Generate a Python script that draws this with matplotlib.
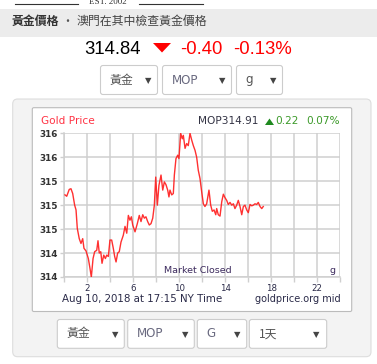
import matplotlib
matplotlib.use("Agg")
import matplotlib.pyplot as plt
from matplotlib.patches import FancyBboxPatch, Polygon

plt.rcParams['font.family'] = ['DejaVu Sans', 'Noto Sans CJK TC']
CJK = ['Noto Sans CJK TC', 'DejaVu Sans']

# ---------------- data ----------------
hours = [0.06, 0.21, 0.43, 0.58, 0.73, 0.90, 1.02, 1.13, 1.30, 1.45, 1.60, 1.71, 1.89,
         2.09, 2.23, 2.35, 2.50, 2.64, 2.82, 2.93, 3.04, 3.17, 3.28, 3.43, 3.57, 3.69,
         3.83, 3.97, 4.12, 4.26, 4.38, 4.50, 4.64, 4.78, 4.93, 5.13, 5.28, 5.43, 5.57,
         5.71, 5.83, 5.95, 6.15, 6.35, 6.52, 6.67, 6.82, 6.96, 7.10, 7.25, 7.39, 7.54,
         7.69, 7.83, 7.95, 8.09, 8.23, 8.41, 8.56, 8.70, 8.84, 8.99, 9.10, 9.19, 9.34,
         9.48, 9.57, 9.71, 9.86, 9.97, 10.12, 10.26, 10.35, 10.50, 10.64, 10.78, 10.93,
         11.08, 11.22, 11.37, 11.51, 11.65, 11.80, 11.95, 12.09, 12.23, 12.38, 12.58,
         12.73, 12.87, 13.02, 13.17, 13.25, 13.39, 13.54, 13.69, 13.83, 13.97, 14.12,
         14.26, 14.41, 14.56, 14.70, 14.84, 14.99, 15.13, 15.28, 15.43, 15.57, 15.71,
         15.86, 16.00, 16.15, 16.30, 16.43, 16.58, 16.73, 16.87, 17.02, 17.17, 17.30]
prices = [315.00, 314.98, 315.08, 315.09, 315.02, 314.85, 314.78, 314.51, 314.36, 314.29,
          314.36, 314.22, 314.18, 314.07, 313.93, 313.80, 314.07, 314.17, 314.19, 314.33,
          314.15, 314.17, 314.00, 314.12, 314.07, 314.12, 314.10, 314.34, 314.34, 314.22,
          314.10, 314.02, 314.15, 314.17, 314.31, 314.41, 314.54, 314.44, 314.70, 314.63,
          314.68, 314.56, 314.46, 314.58, 314.70, 314.61, 314.71, 314.66, 314.68, 314.61,
          314.56, 314.58, 314.66, 314.85, 315.26, 314.85, 315.14, 315.29, 315.07, 315.19,
          315.15, 315.07, 314.97, 315.07, 315.00, 315.02, 315.29, 315.53, 315.58, 315.53,
          315.90, 315.82, 315.87, 315.68, 315.75, 315.72, 315.90, 315.80, 315.72, 315.65,
          315.55, 315.36, 315.24, 315.04, 314.87, 314.83, 314.87, 315.07, 314.85, 314.76,
          314.78, 314.71, 314.80, 314.71, 314.69, 314.90, 315.01, 314.96, 314.92, 314.86,
          314.89, 314.85, 314.87, 314.80, 314.85, 314.92, 314.83, 314.71, 314.83, 314.85,
          314.78, 314.74, 314.86, 314.84, 314.85, 314.87, 314.86, 314.89, 314.83, 314.80,
          314.83]
y_ticks = [313.8, 314.15, 314.5, 314.85, 315.2, 315.55, 315.9]
y_tick_labels = ["314", "314", "315", "315", "315", "316", "316"]
x_ticks = [0, 2, 4, 6, 8, 10, 12, 14, 16, 18, 20, 22, 24]
x_tick_labels = ["", "2", "", "6", "", "10", "", "14", "", "18", "", "22", ""]

W, H = 377, 364
fig = plt.figure(figsize=(W / 100, H / 100), dpi=100)
fig.patch.set_facecolor('white')

bg = fig.add_axes([0, 0, 1, 1])
bg.set_xlim(0, W)
bg.set_ylim(H, 0)
bg.axis('off')


def rbox(x0, y0, x1, y1, fc, ec, r=3, lw=0.8, z=1):
    p = FancyBboxPatch((x0, y0), x1 - x0, y1 - y0,
                       boxstyle=f"round,pad=0,rounding_size={r}",
                       fc=fc, ec=ec, lw=lw, zorder=z)
    bg.add_patch(p)


# top logo strip
bg.plot([15, 78], [4, 4], color='#333333', lw=0.8)
bg.plot([139, 203], [4, 4], color='#333333', lw=0.8)
bg.text(108, 2.5, "EST. 2002", family='Liberation Serif', fontsize=6.5,
        color='#333333', ha='center', va='center')

# gray header band
bg.add_patch(plt.Rectangle((0, 8.5), W, 28, fc='#ececec', ec='none', zorder=0))
bg.text(12, 21, "黃金價格", family=CJK, fontsize=8.6, fontweight='bold',
        color='#333333', ha='left', va='center')
bg.text(67, 21, "·", family=CJK, fontsize=8.6, color='#555555', ha='center', va='center')
bg.text(77, 21, "澳門在其中檢查黃金價格", family=CJK, fontsize=8.6,
        color='#444444', ha='left', va='center')

# price line
bg.text(84, 49, "314.84", family='Liberation Sans', fontsize=13.3,
        color='black', ha='left', va='center')
bg.add_patch(Polygon([[153, 43], [171, 43], [162, 52.5]], closed=True,
                     fc='#ff0000', ec='none'))
bg.text(180, 49, "-0.40", family='Liberation Sans', fontsize=13.3,
        color='#ff0000', ha='left', va='center')
bg.text(233, 49, "-0.13%", family='Liberation Sans', fontsize=13.3,
        color='#ff0000', ha='left', va='center')


def dropdown(x0, x1, y0, y1, label, lx, ax_, color='#555555', cjk=False):
    rbox(x0, y0, x1, y1, 'white', '#cccccc', r=2.5, lw=0.8, z=2)
    fam = CJK if cjk else ['DejaVu Sans']
    bg.text(lx, (y0 + y1) / 2, label, family=fam, fontsize=8.6, color=color,
            ha='left', va='center', zorder=3)
    bg.text(ax_, (y0 + y1) / 2 + 0.5, "▼", fontsize=6, color='#444444',
            ha='center', va='center', zorder=3)


dropdown(100.5, 157.5, 65.5, 94.5, "黃金", 110, 148, cjk=True)
dropdown(162.5, 231.5, 65.5, 94.5, "MOP", 172, 222, color='#6a6a80')
dropdown(236.5, 282.5, 65.5, 94.5, "g", 245, 273)

# outer panel and chart box
rbox(12.7, 99, 371, 356.7, '#f3f3f3', '#dddddd', r=5, lw=0.8, z=1)
rbox(32.3, 107.7, 351.7, 311.5, 'white', '#bbbbbb', r=1.5, lw=0.8, z=2)

# chart header texts
bg.text(41, 121.5, "Gold Price", fontsize=7.6, color='#ff3344',
        ha='left', va='center', zorder=3)
bg.text(198, 121.5, "MOP314.91", fontsize=7.6, color='#333344',
        ha='left', va='center', zorder=3)
bg.add_patch(Polygon([[265, 125], [274, 125], [269.5, 118.5]], closed=True,
                     fc='#1f8a1f', ec='none', zorder=3))
bg.text(275, 121.5, "0.22", fontsize=7.6, color='#3c9a2a',
        ha='left', va='center', zorder=3)
bg.text(306, 121.5, "0.07%", fontsize=7.6, color='#3c9a2a',
        ha='left', va='center', zorder=3)

# bottom texts
bg.text(62.3, 299.5, "Aug 10, 2018 at 17:15 NY Time", fontsize=7.4,
        color='#2a2a48', ha='left', va='center', zorder=3)
bg.text(340.5, 299.5, "goldprice.org mid", fontsize=7.0,
        color='#2a2a48', ha='right', va='center', zorder=3)

# bottom dropdowns
dropdown(57.3, 124.3, 319.5, 348.3, "黃金", 66.5, 115, cjk=True)
dropdown(127.7, 194.3, 319.5, 348.3, "MOP", 136.5, 185, color='#6a6a80')
dropdown(197.3, 246.7, 319.5, 348.3, "G", 206.5, 237.3, color='#6a6a80')
dropdown(249.3, 326.7, 319.5, 348.3, "1天", 258.5, 316.7, cjk=True)

# ---------------- plot axes ----------------
left, right, top, bottom = 64.3, 340.3, 133.3, 277.0
ax = fig.add_axes([left / W, 1 - bottom / H, (right - left) / W, (bottom - top) / H])
ax.set_facecolor('none')
ax.set_zorder(5)
ax.plot(hours, prices, color='#ff1a1a', lw=1.0, alpha=0.9, zorder=3)
ax.set_xlim(0, 24)
ax.set_ylim(y_ticks[0], y_ticks[-1])
ax.set_xticks(x_ticks)
ax.set_xticklabels(x_tick_labels)
ax.set_yticks(y_ticks)
ax.set_yticklabels(y_tick_labels)
ax.grid(True, color='#cfcfcf', lw=1.1, zorder=0)
ax.set_axisbelow(True)
for s in ['top', 'right']:
    ax.spines[s].set_visible(False)
for s in ['left', 'bottom']:
    ax.spines[s].set_color('#cfcfcf')
    ax.spines[s].set_linewidth(1.1)
ax.tick_params(axis='x', length=3.5, width=1.0, color='#cfcfcf', pad=1.5,
               labelsize=6.2, labelcolor='#2a2a48')
ax.tick_params(axis='y', length=3.0, width=1.0, color='#cfcfcf', pad=1.5,
               labelsize=6.4, labelcolor='#333333')
for t in ax.get_yticklabels():
    t.set_fontweight('bold')
ax.text(0.483, 0.045, "Market Closed", transform=ax.transAxes, fontsize=6.8,
        color='#3d2b5e', ha='center', va='center')
ax.text(0.97, 0.045, "g", transform=ax.transAxes, fontsize=6.8,
        color='#3d2b5e', ha='center', va='center')

fig.savefig("out.png", dpi=100, facecolor='white')
